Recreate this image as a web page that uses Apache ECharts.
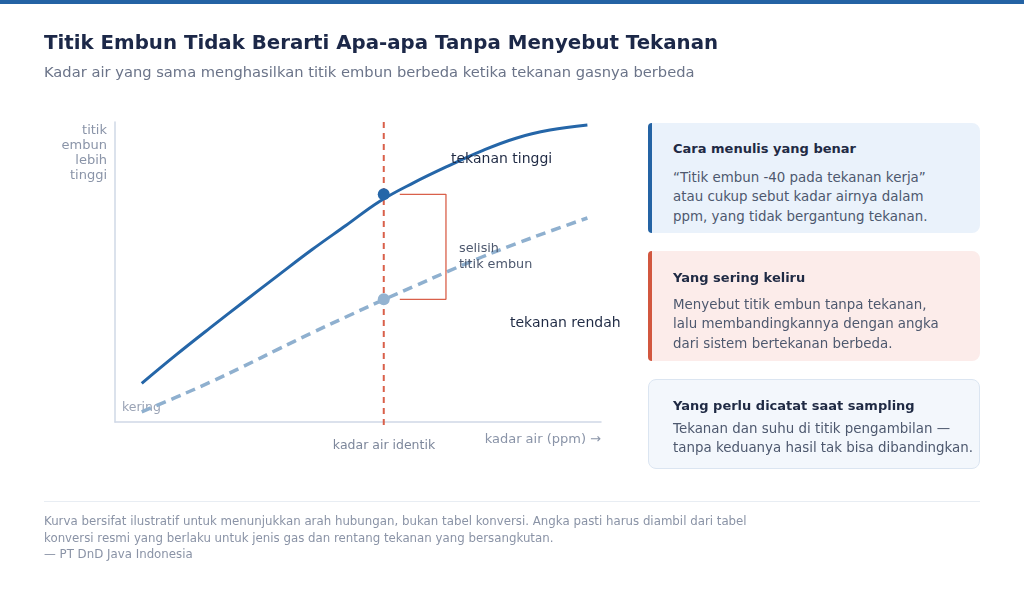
<!DOCTYPE html>
<html>
<head>
<meta charset="utf-8">
<script src="https://cdn.jsdelivr.net/npm/echarts@6/dist/echarts.min.js"></script>
<style>
html,body{margin:0;padding:0;width:1024px;height:602px;background:#fff;overflow:hidden;font-family:"DejaVu Sans",sans-serif;}
#chart{position:absolute;left:0;top:0;width:1024px;height:602px;}
.bar{position:absolute;left:0;top:0;width:1024px;height:4px;background:#2463a4;}
.t{position:absolute;white-space:nowrap;}
#title{left:44px;top:31px;font-size:19.8px;font-weight:700;color:#1c2848;}
#sub{left:44px;top:63px;font-size:14.7px;color:#6b7489;}
.card{position:absolute;left:648px;width:332px;border-radius:8px;box-sizing:border-box;}
.card .h{position:absolute;left:21px;font-size:13px;font-weight:700;color:#1f2a44;white-space:nowrap;}
.card .b{position:absolute;left:21px;font-size:13.4px;color:#4d586e;line-height:19.3px;white-space:nowrap;}
#c1{top:123px;height:110px;background:#eaf2fb;border-left:4px solid #2463a4;border-radius:4px 8px 8px 4px;}
#c2{top:251px;height:110px;background:#fcecea;border-left:4px solid #d2573f;border-radius:4px 8px 8px 4px;}
#c3{top:379px;height:90px;background:#f3f7fc;border:1px solid #dbe5f1;}
#sep{position:absolute;left:44px;top:501px;width:936px;height:1px;background:#e8edf3;}
#foot{left:44px;top:513px;font-size:11.8px;color:#8a93a6;line-height:16.5px;}
</style>
</head>
<body>
<div class="bar"></div>
<div id="chart"></div>
<div class="t" id="title">Titik Embun Tidak Berarti Apa-apa Tanpa Menyebut Tekanan</div>
<div class="t" id="sub">Kadar air yang sama menghasilkan titik embun berbeda ketika tekanan gasnya berbeda</div>
<div class="card" id="c1">
  <div class="h" style="top:18px">Cara menulis yang benar</div>
  <div class="b" style="top:45px">“Titik embun -40 pada tekanan kerja”<br>atau cukup sebut kadar airnya dalam<br>ppm, yang tidak bergantung tekanan.</div>
</div>
<div class="card" id="c2">
  <div class="h" style="top:19px">Yang sering keliru</div>
  <div class="b" style="top:44px">Menyebut titik embun tanpa tekanan,<br>lalu membandingkannya dengan angka<br>dari sistem bertekanan berbeda.</div>
</div>
<div class="card" id="c3">
  <div class="h" style="top:18px;left:24px">Yang perlu dicatat saat sampling</div>
  <div class="b" style="top:40px;left:24px;line-height:18.5px">Tekanan dan suhu di titik pengambilan —<br>tanpa keduanya hasil tak bisa dibandingkan.</div>
</div>
<div id="sep"></div>
<div class="t" id="foot">Kurva bersifat ilustratif untuk menunjukkan arah hubungan, bukan tabel konversi. Angka pasti harus diambil dari tabel<br>konversi resmi yang berlaku untuk jenis gas dan rentang tekanan yang bersangkutan.<br>— PT DnD Java Indonesia</div>
<script>
// illustrative curve data (x = kadar air, y = titik embun)
var kadarAir      = [5.5, 12.5, 19.5, 26.5, 33.5, 40.5, 47.5, 54.5, 61.5, 68.5, 75.5, 82.5, 89.5, 97.2];
var tekananTinggi = [12.9, 22.3, 31.3, 40.1, 48.8, 57.4, 65.5, 73.6, 79.8, 85.3, 90.4, 94.6, 97.3, 99.0];
var tekananRendah = [3.4, 8.2, 13.2, 18.6, 24.2, 29.7, 35.0, 40.2, 45.2, 50.2, 55.0, 59.4, 63.6, 68.0];
var kadarIdentik = 55.3;
var titikTinggi = 75.9;
var titikRendah = 40.9;
var bracketX = [58.6, 68.1];

var chart = echarts.init(document.getElementById('chart'), null, {renderer:'canvas'});
var FONT = '"DejaVu Sans", sans-serif';
function zip(xs, ys){ return xs.map(function(x,i){ return [x, ys[i]]; }); }

var option = {
  animation:false,
  textStyle:{fontFamily:FONT},
  grid:{left:115, top:122, width:486, height:300},
  xAxis:{type:'value', min:0, max:100, axisLine:{show:true, lineStyle:{color:'#cfd8e6', width:1.5}},
         axisTick:{show:false}, axisLabel:{show:false}, splitLine:{show:false}},
  yAxis:{type:'value', min:0, max:100, axisLine:{show:true, lineStyle:{color:'#cfd8e6', width:1.5}},
         axisTick:{show:false}, axisLabel:{show:false}, splitLine:{show:false}},
  series:[
    {type:'line', name:'identik', data:[[kadarIdentik,100],[kadarIdentik,-2]], clip:false, symbol:'none',
     lineStyle:{color:'#d9604a', width:2, type:[6,5]}, z:1},
    {type:'line', name:'tekanan rendah', data:zip(kadarAir, tekananRendah), smooth:0.4, symbol:'none',
     lineStyle:{color:'#8fb0cf', width:3.5, type:[10,6]}, z:2},
    {type:'line', name:'tekanan tinggi', data:zip(kadarAir, tekananTinggi), smooth:0.4, symbol:'none',
     lineStyle:{color:'#2566a8', width:3}, z:3},
    {type:'line', name:'selisih', data:[[bracketX[0],titikTinggi],[bracketX[1],titikTinggi],[bracketX[1],titikRendah],[bracketX[0],titikRendah]],
     symbol:'none', lineStyle:{color:'#d9604a', width:1.3}, z:2},
    {type:'scatter', data:[[kadarIdentik,titikTinggi]], symbolSize:12, itemStyle:{color:'#2566a8', opacity:1}, z:5},
    {type:'scatter', data:[[kadarIdentik,titikRendah]], symbolSize:12, itemStyle:{color:'#93b3d1', opacity:1}, z:5}
  ],
  graphic:[
    {type:'text', x:107, y:122.5, style:{text:'titik\nembun\nlebih\ntinggi', align:'right', fill:'#8a94a8', font:'13px '+FONT, lineHeight:15.3}},
    {type:'text', x:122, y:401, style:{text:'kering', fill:'#9aa3b5', font:'12.5px '+FONT}},
    {type:'text', x:451, y:152, style:{text:'tekanan tinggi', fill:'#1f2a44', font:'14px '+FONT}, z:10},
    {type:'text', x:510, y:316, style:{text:'tekanan rendah', fill:'#1f2a44', font:'14px '+FONT}},
    {type:'text', x:459, y:240, style:{text:'selisih\ntitik embun', fill:'#4d586e', font:'12.8px '+FONT, lineHeight:16.5}, z:10},
    {type:'text', x:384, y:439, style:{text:'kadar air identik', align:'center', fill:'#7d879b', font:'12.5px '+FONT}},
    {type:'text', x:601, y:433, style:{text:'kadar air (ppm) →', align:'right', fill:'#8a94a8', font:'13px '+FONT}}
  ]
};
chart.setOption(option);
</script>
</body>
</html>
